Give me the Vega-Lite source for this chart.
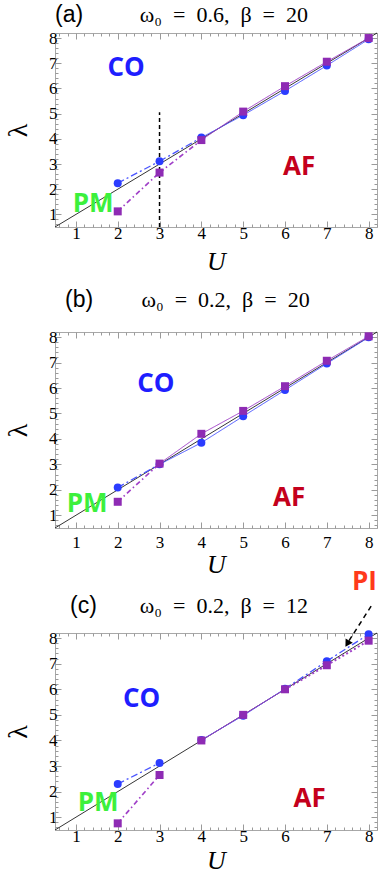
{
  "$schema": "https://vega.github.io/schema/vega-lite/v6.json",
  "padding": {"left": 4, "top": 3, "right": 0, "bottom": 0},
  "background": "white",
  "spacing": 105,
  "bounds": "flush",
  "config": {
    "view": {"stroke": "#a8a8a8", "strokeWidth": 1},
    "axis": {"domain": false, "grid": false, "tickColor": "#9a9a9a", "tickWidth": 1, "labelFont": "Liberation Serif", "labelFontSize": 17, "labelColor": "#000000", "labelOverlap": false, "labelFlush": false, "titleFont": "Liberation Serif", "titleColor": "#000000", "titleFontWeight": "normal"},
    "legend": {"disable": true}
  },
  "datasets": {
    "pts": [
      {"p": "a", "s": "blue", "U": 2, "L": 2.24}, {"p": "a", "s": "blue", "U": 3, "L": 3.11}, {"p": "a", "s": "blue", "U": 4, "L": 4.05}, {"p": "a", "s": "blue", "U": 5, "L": 4.94}, {"p": "a", "s": "blue", "U": 6, "L": 5.9}, {"p": "a", "s": "blue", "U": 7, "L": 6.91}, {"p": "a", "s": "blue", "U": 8, "L": 7.95},
      {"p": "a", "s": "purple", "U": 2, "L": 1.12}, {"p": "a", "s": "purple", "U": 3, "L": 2.66}, {"p": "a", "s": "purple", "U": 4, "L": 3.95}, {"p": "a", "s": "purple", "U": 5, "L": 5.08}, {"p": "a", "s": "purple", "U": 6, "L": 6.09}, {"p": "a", "s": "purple", "U": 7, "L": 7.06}, {"p": "a", "s": "purple", "U": 8, "L": 8.0},
      {"p": "b", "s": "blue", "U": 2, "L": 2.09}, {"p": "b", "s": "blue", "U": 3, "L": 3.0}, {"p": "b", "s": "blue", "U": 4, "L": 3.85}, {"p": "b", "s": "blue", "U": 5, "L": 4.89}, {"p": "b", "s": "blue", "U": 6, "L": 5.92}, {"p": "b", "s": "blue", "U": 7, "L": 6.96}, {"p": "b", "s": "blue", "U": 8, "L": 7.99},
      {"p": "b", "s": "purple", "U": 2, "L": 1.53}, {"p": "b", "s": "purple", "U": 3, "L": 3.03}, {"p": "b", "s": "purple", "U": 4, "L": 4.2}, {"p": "b", "s": "purple", "U": 5, "L": 5.1}, {"p": "b", "s": "purple", "U": 6, "L": 6.07}, {"p": "b", "s": "purple", "U": 7, "L": 7.07}, {"p": "b", "s": "purple", "U": 8, "L": 8.03},
      {"p": "c", "s": "blue", "U": 2, "L": 2.3}, {"p": "c", "s": "blue", "U": 3, "L": 3.12}, {"p": "c", "s": "blue", "U": 4, "L": 4.02}, {"p": "c", "s": "blue", "U": 5, "L": 4.97}, {"p": "c", "s": "blue", "U": 6, "L": 6.02}, {"p": "c", "s": "blue", "U": 7, "L": 7.1}, {"p": "c", "s": "blue", "U": 8, "L": 8.15},
      {"p": "c", "s": "purple", "U": 2, "L": 0.76}, {"p": "c", "s": "purple", "U": 3, "L": 2.65}, {"p": "c", "s": "purple", "U": 4, "L": 4.0}, {"p": "c", "s": "purple", "U": 5, "L": 5.0}, {"p": "c", "s": "purple", "U": 6, "L": 6.0}, {"p": "c", "s": "purple", "U": 7, "L": 6.94}, {"p": "c", "s": "purple", "U": 8, "L": 7.9}
    ],
    "segs": [
      {"p": "a", "s": "blue", "st": "dd", "U1": 2, "L1": 2.24, "U2": 3, "L2": 3.11}, {"p": "a", "s": "blue", "st": "dd", "U1": 3, "L1": 3.11, "U2": 4, "L2": 4.05},
      {"p": "a", "s": "blue", "st": "solid", "U1": 4, "L1": 4.05, "U2": 5, "L2": 4.94}, {"p": "a", "s": "blue", "st": "solid", "U1": 5, "L1": 4.94, "U2": 6, "L2": 5.9}, {"p": "a", "s": "blue", "st": "solid", "U1": 6, "L1": 5.9, "U2": 7, "L2": 6.91}, {"p": "a", "s": "blue", "st": "solid", "U1": 7, "L1": 6.91, "U2": 8, "L2": 7.95},
      {"p": "a", "s": "purple", "st": "dd2", "U1": 2, "L1": 1.12, "U2": 3, "L2": 2.66}, {"p": "a", "s": "purple", "st": "dd2", "U1": 3, "L1": 2.66, "U2": 4, "L2": 3.95},
      {"p": "a", "s": "purple", "st": "solid", "U1": 4, "L1": 3.95, "U2": 5, "L2": 5.08}, {"p": "a", "s": "purple", "st": "solid", "U1": 5, "L1": 5.08, "U2": 6, "L2": 6.09}, {"p": "a", "s": "purple", "st": "solid", "U1": 6, "L1": 6.09, "U2": 7, "L2": 7.06}, {"p": "a", "s": "purple", "st": "solid", "U1": 7, "L1": 7.06, "U2": 8, "L2": 8.0},
      {"p": "b", "s": "blue", "st": "dd", "U1": 2, "L1": 2.09, "U2": 3, "L2": 3.0},
      {"p": "b", "s": "blue", "st": "solid", "U1": 3, "L1": 3.0, "U2": 4, "L2": 3.85}, {"p": "b", "s": "blue", "st": "solid", "U1": 4, "L1": 3.85, "U2": 5, "L2": 4.89}, {"p": "b", "s": "blue", "st": "solid", "U1": 5, "L1": 4.89, "U2": 6, "L2": 5.92}, {"p": "b", "s": "blue", "st": "solid", "U1": 6, "L1": 5.92, "U2": 7, "L2": 6.96}, {"p": "b", "s": "blue", "st": "solid", "U1": 7, "L1": 6.96, "U2": 8, "L2": 7.99},
      {"p": "b", "s": "purple", "st": "dd2", "U1": 2, "L1": 1.53, "U2": 3, "L2": 3.03},
      {"p": "b", "s": "purple", "st": "solid", "U1": 3, "L1": 3.03, "U2": 4, "L2": 4.2}, {"p": "b", "s": "purple", "st": "solid", "U1": 4, "L1": 4.2, "U2": 5, "L2": 5.1}, {"p": "b", "s": "purple", "st": "solid", "U1": 5, "L1": 5.1, "U2": 6, "L2": 6.07}, {"p": "b", "s": "purple", "st": "solid", "U1": 6, "L1": 6.07, "U2": 7, "L2": 7.07}, {"p": "b", "s": "purple", "st": "solid", "U1": 7, "L1": 7.07, "U2": 8, "L2": 8.03},
      {"p": "c", "s": "blue", "st": "dd", "U1": 2, "L1": 2.3, "U2": 3, "L2": 3.12},
      {"p": "c", "s": "blue", "st": "solid", "U1": 4, "L1": 4.02, "U2": 5, "L2": 4.97}, {"p": "c", "s": "blue", "st": "solid", "U1": 5, "L1": 4.97, "U2": 6, "L2": 6.02},
      {"p": "c", "s": "blue", "st": "dd", "U1": 6, "L1": 6.02, "U2": 7, "L2": 7.1}, {"p": "c", "s": "blue", "st": "dd", "U1": 7, "L1": 7.1, "U2": 8, "L2": 8.15},
      {"p": "c", "s": "purple", "st": "dd2", "U1": 2, "L1": 0.76, "U2": 3, "L2": 2.65},
      {"p": "c", "s": "purple", "st": "solid", "U1": 4, "L1": 4.0, "U2": 5, "L2": 5.0}, {"p": "c", "s": "purple", "st": "solid", "U1": 5, "L1": 5.0, "U2": 6, "L2": 6.0},
      {"p": "c", "s": "purple", "st": "dot", "U1": 6, "L1": 6.0, "U2": 7, "L2": 6.94}, {"p": "c", "s": "purple", "st": "dot", "U1": 7, "L1": 6.94, "U2": 8, "L2": 7.9}
    ],
    "refs": [
      {"p": "a", "k": "diag", "U1": 0.5, "L1": 0.5, "U2": 8.2, "L2": 8.2},
      {"p": "b", "k": "diag", "U1": 0.5, "L1": 0.5, "U2": 8.2, "L2": 8.2},
      {"p": "c", "k": "diag", "U1": 0.5, "L1": 0.5, "U2": 8.2, "L2": 8.2},
      {"p": "a", "k": "vline", "U1": 3, "L1": 0.5, "U2": 3, "L2": 5.05},
      {"p": "c", "k": "arrow", "U1": 8.06, "L1": 9.25, "U2": 7.52, "L2": 7.87}
    ],
    "heads": [{"p": "c", "U": 7.49, "L": 7.78}],
    "labs": [
      {"p": "a", "t": "CO", "U": 2.2, "L": 6.82}, {"p": "a", "t": "AF", "U": 6.34, "L": 2.89}, {"p": "a", "t": "PM", "U": 1.41, "L": 1.4},
      {"p": "b", "t": "CO", "U": 2.91, "L": 6.16}, {"p": "b", "t": "AF", "U": 6.1, "L": 1.69}, {"p": "b", "t": "PM", "U": 1.27, "L": 1.43},
      {"p": "c", "t": "CO", "U": 2.57, "L": 5.63}, {"p": "c", "t": "AF", "U": 6.59, "L": 1.72}, {"p": "c", "t": "PM", "U": 1.53, "L": 1.56}, {"p": "c", "t": "PI", "U": 7.9, "L": 10.2}
    ],
    "ann": [
      {"p": "a", "tag": "(a)", "f": "ω₀\u2002=\u20020.6,\u2002β\u2002=\u200220", "Ut": 0.5, "Uf": 4.54, "L": 8.9},
      {"p": "b", "tag": "(b)", "f": "ω₀\u2002=\u20020.2,\u2002β\u2002=\u200220", "Ut": 0.74, "Uf": 4.58, "L": 9.47},
      {"p": "c", "tag": "(c)", "f": "ω₀\u2002=\u20020.2,\u2002β\u2002=\u200212", "Ut": 0.86, "Uf": 4.54, "L": 9.27}
    ]
  },
  "vconcat": [
    {
      "width": 322, "height": 194,
      "layer": [
        {"data": {"name": "refs"}, "transform": [{"filter": "datum.p == 'a' && datum.k == 'diag'"}],
         "mark": {"type": "rule", "color": "#000000", "strokeWidth": 0.8},
         "encoding": {
           "x": {"field": "U1", "type": "quantitative", "scale": {"domain": [0.5, 8.2], "nice": false, "zero": false},
                 "axis": {"orient": "bottom", "values": [1,2,3,4,5,6,7,8], "format": "d", "labelOverlap": false, "tickSize": -6, "labelPadding": 4, "title": "U", "titleFontSize": 26, "titleFontStyle": "italic", "titlePadding": 7}},
           "y": {"field": "L1", "type": "quantitative", "scale": {"domain": [0.5, 8.2], "nice": false, "zero": false},
                 "axis": {"orient": "left", "values": [1,2,3,4,5,6,7,8], "format": "d", "labelOverlap": false, "tickSize": -6, "labelPadding": 4, "title": "λ", "titleFontSize": 28, "titlePadding": 16}},
           "x2": {"field": "U2"}, "y2": {"field": "L2"}
         }},
        {"data": {"name": "segs"}, "transform": [{"filter": "datum.p == 'a'"}],
         "mark": {"type": "rule"},
         "encoding": {
           "x": {"field": "U1", "type": "quantitative", "axis": {"orient": "bottom", "values": [0.6,0.8,1.2,1.4,1.6,1.8,2.2,2.4,2.6,2.8,3.2,3.4,3.6,3.8,4.2,4.4,4.6,4.8,5.2,5.4,5.6,5.8,6.2,6.4,6.6,6.8,7.2,7.4,7.6,7.8,8.2], "labels": false, "tickSize": -3, "title": null}},
           "y": {"field": "L1", "type": "quantitative", "axis": {"orient": "left", "values": [0.6,0.8,1.2,1.4,1.6,1.8,2.2,2.4,2.6,2.8,3.2,3.4,3.6,3.8,4.2,4.4,4.6,4.8,5.2,5.4,5.6,5.8,6.2,6.4,6.6,6.8,7.2,7.4,7.6,7.8,8.2], "labels": false, "tickSize": -3, "title": null}},
           "x2": {"field": "U2"}, "y2": {"field": "L2"},
           "stroke": {"field": "s", "type": "nominal", "scale": {"domain": ["blue", "purple"], "range": ["#4a55ff", "#a040c8"]}},
           "strokeDash": {"field": "st", "type": "nominal", "scale": {"domain": ["solid", "dd", "dd2", "dot"], "range": [[1, 0], [7, 3, 2, 3], [5, 3, 1.5, 3], [2, 2.5]]}},
           "strokeWidth": {"field": "st", "type": "nominal", "scale": {"domain": ["solid", "dd", "dd2", "dot"], "range": [1, 2, 2, 2.2]}}
         }},
        {"data": {"name": "refs"}, "transform": [{"filter": "datum.p == 'a' && datum.k == 'vline'"}],
         "mark": {"type": "rule", "color": "#000000", "strokeWidth": 1.5, "strokeDash": [4, 3]},
         "encoding": {"x": {"field": "U1", "type": "quantitative", "axis": null}, "y": {"field": "L1", "type": "quantitative", "axis": null}, "x2": {"field": "U2"}, "y2": {"field": "L2"}}},
        {"data": {"name": "pts"}, "transform": [{"filter": "datum.p == 'a'"}],
         "mark": {"type": "point", "filled": true, "size": 64, "opacity": 1},
         "encoding": {
           "x": {"field": "U", "type": "quantitative", "axis": {"orient": "top", "values": [1,2,3,4,5,6,7,8], "labels": false, "tickSize": -6, "title": null}},
           "y": {"field": "L", "type": "quantitative", "axis": {"orient": "right", "values": [1,2,3,4,5,6,7,8], "labels": false, "tickSize": -6, "title": null}},
           "shape": {"field": "s", "type": "nominal", "scale": {"domain": ["blue", "purple"], "range": ["circle", "square"]}},
           "fill": {"field": "s", "type": "nominal", "scale": {"domain": ["blue", "purple", "CO", "AF", "PM", "PI"], "range": ["#2b3cff", "#8e2bb4", "#1e1eff", "#c4001c", "#3cf03c", "#ff3a1a"]}}}},
        {"data": {"name": "labs"}, "transform": [{"filter": "datum.p == 'a'"}],
         "mark": {"type": "text", "font": "Open Sans", "fontWeight": "bold", "fontSize": 26, "align": "center", "baseline": "middle"},
         "encoding": {
           "x": {"field": "U", "type": "quantitative", "axis": {"orient": "top", "values": [0.6,0.8,1.2,1.4,1.6,1.8,2.2,2.4,2.6,2.8,3.2,3.4,3.6,3.8,4.2,4.4,4.6,4.8,5.2,5.4,5.6,5.8,6.2,6.4,6.6,6.8,7.2,7.4,7.6,7.8,8.2], "labels": false, "tickSize": -3, "title": null}},
           "y": {"field": "L", "type": "quantitative", "axis": {"orient": "right", "values": [0.6,0.8,1.2,1.4,1.6,1.8,2.2,2.4,2.6,2.8,3.2,3.4,3.6,3.8,4.2,4.4,4.6,4.8,5.2,5.4,5.6,5.8,6.2,6.4,6.6,6.8,7.2,7.4,7.6,7.8,8.2], "labels": false, "tickSize": -3, "title": null}},
           "text": {"field": "t"},
           "fill": {"field": "t", "type": "nominal", "scale": {"domain": ["blue", "purple", "CO", "AF", "PM", "PI"], "range": ["#2b3cff", "#8e2bb4", "#1e1eff", "#c4001c", "#3cf03c", "#ff3a1a"]}}}},
        {"data": {"name": "ann"}, "transform": [{"filter": "datum.p == 'a'"}],
         "mark": {"type": "text", "font": "Liberation Sans", "fontSize": 23, "align": "left", "baseline": "middle", "color": "#000000"},
         "encoding": {"x": {"field": "Ut", "type": "quantitative", "axis": null}, "y": {"field": "L", "type": "quantitative", "axis": null}, "text": {"field": "tag"}}},
        {"data": {"name": "ann"}, "transform": [{"filter": "datum.p == 'a'"}],
         "mark": {"type": "text", "font": "Liberation Serif", "fontSize": 22, "align": "center", "baseline": "middle", "color": "#000000"},
         "encoding": {"x": {"field": "Uf", "type": "quantitative", "axis": null}, "y": {"field": "L", "type": "quantitative", "axis": null}, "text": {"field": "f"}}}
      ],
      "resolve": {"axis": {"x": "independent", "y": "independent"}}
    },
    {
      "width": 322, "height": 196,
      "layer": [
        {"data": {"name": "refs"}, "transform": [{"filter": "datum.p == 'b' && datum.k == 'diag'"}],
         "mark": {"type": "rule", "color": "#000000", "strokeWidth": 0.8},
         "encoding": {
           "x": {"field": "U1", "type": "quantitative", "scale": {"domain": [0.5, 8.2], "nice": false, "zero": false},
                 "axis": {"orient": "bottom", "values": [1,2,3,4,5,6,7,8], "format": "d", "labelOverlap": false, "tickSize": -6, "labelPadding": 12, "title": "U", "titleFontSize": 26, "titleFontStyle": "italic", "titlePadding": 1}},
           "y": {"field": "L1", "type": "quantitative", "scale": {"domain": [0.5, 8.2], "nice": false, "zero": false},
                 "axis": {"orient": "left", "values": [1,2,3,4,5,6,7,8], "format": "d", "labelOverlap": false, "tickSize": -6, "labelPadding": 4, "title": "λ", "titleFontSize": 28, "titlePadding": 16}},
           "x2": {"field": "U2"}, "y2": {"field": "L2"}
         }},
        {"data": {"name": "segs"}, "transform": [{"filter": "datum.p == 'b'"}],
         "mark": {"type": "rule"},
         "encoding": {
           "x": {"field": "U1", "type": "quantitative", "axis": {"orient": "bottom", "values": [0.6,0.8,1.2,1.4,1.6,1.8,2.2,2.4,2.6,2.8,3.2,3.4,3.6,3.8,4.2,4.4,4.6,4.8,5.2,5.4,5.6,5.8,6.2,6.4,6.6,6.8,7.2,7.4,7.6,7.8,8.2], "labels": false, "tickSize": -3, "title": null}},
           "y": {"field": "L1", "type": "quantitative", "axis": {"orient": "left", "values": [0.6,0.8,1.2,1.4,1.6,1.8,2.2,2.4,2.6,2.8,3.2,3.4,3.6,3.8,4.2,4.4,4.6,4.8,5.2,5.4,5.6,5.8,6.2,6.4,6.6,6.8,7.2,7.4,7.6,7.8,8.2], "labels": false, "tickSize": -3, "title": null}},
           "x2": {"field": "U2"}, "y2": {"field": "L2"},
           "stroke": {"field": "s", "type": "nominal", "scale": {"domain": ["blue", "purple"], "range": ["#4a55ff", "#a040c8"]}},
           "strokeDash": {"field": "st", "type": "nominal", "scale": {"domain": ["solid", "dd", "dd2", "dot"], "range": [[1, 0], [7, 3, 2, 3], [5, 3, 1.5, 3], [2, 2.5]]}},
           "strokeWidth": {"field": "st", "type": "nominal", "scale": {"domain": ["solid", "dd", "dd2", "dot"], "range": [1, 2, 2, 2.2]}}
         }},
        {"data": {"name": "pts"}, "transform": [{"filter": "datum.p == 'b'"}],
         "mark": {"type": "point", "filled": true, "size": 64, "opacity": 1},
         "encoding": {
           "x": {"field": "U", "type": "quantitative", "axis": {"orient": "top", "values": [1,2,3,4,5,6,7,8], "labels": false, "tickSize": -6, "title": null}},
           "y": {"field": "L", "type": "quantitative", "axis": {"orient": "right", "values": [1,2,3,4,5,6,7,8], "labels": false, "tickSize": -6, "title": null}},
           "shape": {"field": "s", "type": "nominal", "scale": {"domain": ["blue", "purple"], "range": ["circle", "square"]}},
           "fill": {"field": "s", "type": "nominal", "scale": {"domain": ["blue", "purple", "CO", "AF", "PM", "PI"], "range": ["#2b3cff", "#8e2bb4", "#1e1eff", "#c4001c", "#3cf03c", "#ff3a1a"]}}}},
        {"data": {"name": "labs"}, "transform": [{"filter": "datum.p == 'b'"}],
         "mark": {"type": "text", "font": "Open Sans", "fontWeight": "bold", "fontSize": 26, "align": "center", "baseline": "middle"},
         "encoding": {
           "x": {"field": "U", "type": "quantitative", "axis": {"orient": "top", "values": [0.6,0.8,1.2,1.4,1.6,1.8,2.2,2.4,2.6,2.8,3.2,3.4,3.6,3.8,4.2,4.4,4.6,4.8,5.2,5.4,5.6,5.8,6.2,6.4,6.6,6.8,7.2,7.4,7.6,7.8,8.2], "labels": false, "tickSize": -3, "title": null}},
           "y": {"field": "L", "type": "quantitative", "axis": {"orient": "right", "values": [0.6,0.8,1.2,1.4,1.6,1.8,2.2,2.4,2.6,2.8,3.2,3.4,3.6,3.8,4.2,4.4,4.6,4.8,5.2,5.4,5.6,5.8,6.2,6.4,6.6,6.8,7.2,7.4,7.6,7.8,8.2], "labels": false, "tickSize": -3, "title": null}},
           "text": {"field": "t"},
           "fill": {"field": "t", "type": "nominal", "scale": {"domain": ["blue", "purple", "CO", "AF", "PM", "PI"], "range": ["#2b3cff", "#8e2bb4", "#1e1eff", "#c4001c", "#3cf03c", "#ff3a1a"]}}}},
        {"data": {"name": "ann"}, "transform": [{"filter": "datum.p == 'b'"}],
         "mark": {"type": "text", "font": "Liberation Sans", "fontSize": 23, "align": "left", "baseline": "middle", "color": "#000000"},
         "encoding": {"x": {"field": "Ut", "type": "quantitative", "axis": null}, "y": {"field": "L", "type": "quantitative", "axis": null}, "text": {"field": "tag"}}},
        {"data": {"name": "ann"}, "transform": [{"filter": "datum.p == 'b'"}],
         "mark": {"type": "text", "font": "Liberation Serif", "fontSize": 22, "align": "center", "baseline": "middle", "color": "#000000"},
         "encoding": {"x": {"field": "Uf", "type": "quantitative", "axis": null}, "y": {"field": "L", "type": "quantitative", "axis": null}, "text": {"field": "f"}}}
      ],
      "resolve": {"axis": {"x": "independent", "y": "independent"}}
    },
    {
      "width": 322, "height": 197,
      "layer": [
        {"data": {"name": "refs"}, "transform": [{"filter": "datum.p == 'c' && datum.k == 'diag'"}],
         "mark": {"type": "rule", "color": "#000000", "strokeWidth": 0.8},
         "encoding": {
           "x": {"field": "U1", "type": "quantitative", "scale": {"domain": [0.5, 8.2], "nice": false, "zero": false},
                 "axis": {"orient": "bottom", "values": [1,2,3,4,5,6,7,8], "format": "d", "labelOverlap": false, "tickSize": -6, "labelPadding": 4, "title": "U", "titleFontSize": 26, "titleFontStyle": "italic", "titlePadding": 3}},
           "y": {"field": "L1", "type": "quantitative", "scale": {"domain": [0.5, 8.2], "nice": false, "zero": false},
                 "axis": {"orient": "left", "values": [1,2,3,4,5,6,7,8], "format": "d", "labelOverlap": false, "tickSize": -6, "labelPadding": 4, "title": "λ", "titleFontSize": 28, "titlePadding": 16}},
           "x2": {"field": "U2"}, "y2": {"field": "L2"}
         }},
        {"data": {"name": "segs"}, "transform": [{"filter": "datum.p == 'c'"}],
         "mark": {"type": "rule"},
         "encoding": {
           "x": {"field": "U1", "type": "quantitative", "axis": {"orient": "bottom", "values": [0.6,0.8,1.2,1.4,1.6,1.8,2.2,2.4,2.6,2.8,3.2,3.4,3.6,3.8,4.2,4.4,4.6,4.8,5.2,5.4,5.6,5.8,6.2,6.4,6.6,6.8,7.2,7.4,7.6,7.8,8.2], "labels": false, "tickSize": -3, "title": null}},
           "y": {"field": "L1", "type": "quantitative", "axis": {"orient": "left", "values": [0.6,0.8,1.2,1.4,1.6,1.8,2.2,2.4,2.6,2.8,3.2,3.4,3.6,3.8,4.2,4.4,4.6,4.8,5.2,5.4,5.6,5.8,6.2,6.4,6.6,6.8,7.2,7.4,7.6,7.8,8.2], "labels": false, "tickSize": -3, "title": null}},
           "x2": {"field": "U2"}, "y2": {"field": "L2"},
           "stroke": {"field": "s", "type": "nominal", "scale": {"domain": ["blue", "purple"], "range": ["#4a55ff", "#a040c8"]}},
           "strokeDash": {"field": "st", "type": "nominal", "scale": {"domain": ["solid", "dd", "dd2", "dot"], "range": [[1, 0], [7, 3, 2, 3], [5, 3, 1.5, 3], [2, 2.5]]}},
           "strokeWidth": {"field": "st", "type": "nominal", "scale": {"domain": ["solid", "dd", "dd2", "dot"], "range": [1, 2, 2, 2.2]}}
         }},
        {"data": {"name": "refs"}, "transform": [{"filter": "datum.p == 'c' && datum.k == 'arrow'"}],
         "mark": {"type": "rule", "color": "#000000", "strokeWidth": 1.5, "strokeDash": [5, 4]},
         "encoding": {"x": {"field": "U1", "type": "quantitative", "axis": null}, "y": {"field": "L1", "type": "quantitative", "axis": null}, "x2": {"field": "U2"}, "y2": {"field": "L2"}}},
        {"data": {"name": "heads"}, "transform": [{"filter": "datum.p == 'c'"}],
         "mark": {"type": "point", "shape": "triangle-up", "filled": true, "color": "#000000", "size": 70, "angle": 211, "opacity": 1},
         "encoding": {"x": {"field": "U", "type": "quantitative", "axis": null}, "y": {"field": "L", "type": "quantitative", "axis": null}}},
        {"data": {"name": "pts"}, "transform": [{"filter": "datum.p == 'c'"}],
         "mark": {"type": "point", "filled": true, "size": 64, "opacity": 1},
         "encoding": {
           "x": {"field": "U", "type": "quantitative", "axis": {"orient": "top", "values": [1,2,3,4,5,6,7,8], "labels": false, "tickSize": -6, "title": null}},
           "y": {"field": "L", "type": "quantitative", "axis": {"orient": "right", "values": [1,2,3,4,5,6,7,8], "labels": false, "tickSize": -6, "title": null}},
           "shape": {"field": "s", "type": "nominal", "scale": {"domain": ["blue", "purple"], "range": ["circle", "square"]}},
           "fill": {"field": "s", "type": "nominal", "scale": {"domain": ["blue", "purple", "CO", "AF", "PM", "PI"], "range": ["#2b3cff", "#8e2bb4", "#1e1eff", "#c4001c", "#3cf03c", "#ff3a1a"]}}}},
        {"data": {"name": "labs"}, "transform": [{"filter": "datum.p == 'c'"}],
         "mark": {"type": "text", "font": "Open Sans", "fontWeight": "bold", "fontSize": 26, "align": "center", "baseline": "middle"},
         "encoding": {
           "x": {"field": "U", "type": "quantitative", "axis": {"orient": "top", "values": [0.6,0.8,1.2,1.4,1.6,1.8,2.2,2.4,2.6,2.8,3.2,3.4,3.6,3.8,4.2,4.4,4.6,4.8,5.2,5.4,5.6,5.8,6.2,6.4,6.6,6.8,7.2,7.4,7.6,7.8,8.2], "labels": false, "tickSize": -3, "title": null}},
           "y": {"field": "L", "type": "quantitative", "axis": {"orient": "right", "values": [0.6,0.8,1.2,1.4,1.6,1.8,2.2,2.4,2.6,2.8,3.2,3.4,3.6,3.8,4.2,4.4,4.6,4.8,5.2,5.4,5.6,5.8,6.2,6.4,6.6,6.8,7.2,7.4,7.6,7.8,8.2], "labels": false, "tickSize": -3, "title": null}},
           "text": {"field": "t"},
           "fill": {"field": "t", "type": "nominal", "scale": {"domain": ["blue", "purple", "CO", "AF", "PM", "PI"], "range": ["#2b3cff", "#8e2bb4", "#1e1eff", "#c4001c", "#3cf03c", "#ff3a1a"]}}}},
        {"data": {"name": "ann"}, "transform": [{"filter": "datum.p == 'c'"}],
         "mark": {"type": "text", "font": "Liberation Sans", "fontSize": 23, "align": "left", "baseline": "middle", "color": "#000000"},
         "encoding": {"x": {"field": "Ut", "type": "quantitative", "axis": null}, "y": {"field": "L", "type": "quantitative", "axis": null}, "text": {"field": "tag"}}},
        {"data": {"name": "ann"}, "transform": [{"filter": "datum.p == 'c'"}],
         "mark": {"type": "text", "font": "Liberation Serif", "fontSize": 22, "align": "center", "baseline": "middle", "color": "#000000"},
         "encoding": {"x": {"field": "Uf", "type": "quantitative", "axis": null}, "y": {"field": "L", "type": "quantitative", "axis": null}, "text": {"field": "f"}}}
      ],
      "resolve": {"axis": {"x": "independent", "y": "independent"}}
    }
  ]
}
